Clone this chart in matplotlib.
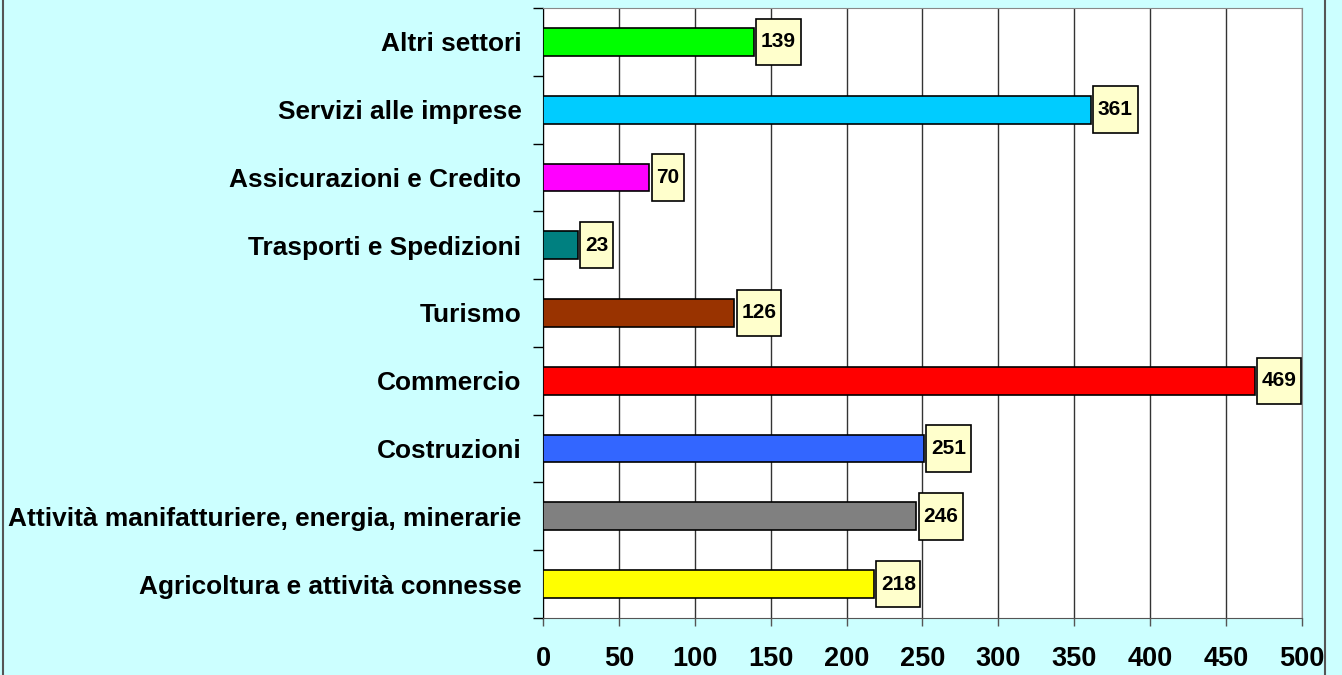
import matplotlib
matplotlib.use("Agg")
import matplotlib.pyplot as plt
from matplotlib.path import Path
from matplotlib.patches import Rectangle

categories = ["Agricoltura e attività connesse",
              "Attività manifatturiere, energia, minerarie",
              "Costruzioni", "Commercio", "Turismo",
              "Trasporti e Spedizioni", "Assicurazioni e Credito",
              "Servizi alle imprese", "Altri settori"]
values = [218, 246, 251, 469, 126, 23, 70, 361, 139]
colors = ["#FFFF00", "#808080", "#3366FF", "#FF0000", "#993300",
          "#008080", "#FF00FF", "#00CCFF", "#00FF00"]
xticks = [0, 50, 100, 150, 200, 250, 300, 350, 400, 450, 500]

plt.rcParams['font.family'] = ['Liberation Sans', 'DejaVu Sans']
plt.rcParams['font.weight'] = 'bold'

fig = plt.figure(figsize=(13.42, 6.75), dpi=100)
fig.patch.set_facecolor("#CCFFFF")
fig.patches.append(Rectangle((3/1342, -0.01), (1325-3)/1342, 1.02,
                             transform=fig.transFigure, fill=False,
                             edgecolor="#555555", lw=1.5))
ax = fig.add_axes([543/1342, 1-618/675, (1302-543)/1342, (618-8)/675])
ax.set_facecolor("white")

ypos = list(range(len(categories)))
ax.barh(ypos, values, height=0.41, color=colors, edgecolor="black", linewidth=1.2, zorder=3)

def labelbox(x0, y0, width, height, mutation_size):
    px = mutation_size * 0.22
    py = mutation_size * 0.66
    x0 -= px; x1 = x0 + width + 2*px
    y0 -= py; y1 = y0 + height + 2*py
    return Path([(x0, y0), (x1, y0), (x1, y1), (x0, y1), (x0, y0)], closed=True)

for y, v in zip(ypos, values):
    ax.annotate(str(v), xy=(v, y), xytext=(5, 0), textcoords="offset points",
                ha="left", va="center", fontsize=15, fontweight="bold", zorder=5,
                bbox=dict(boxstyle=labelbox, facecolor="#FFFFCC", edgecolor="black", lw=1.2))

ax.set_xlim(0, 500)
ax.set_ylim(-0.5, len(categories) - 0.5)
ax.set_xticks(xticks)
ax.set_xticklabels([str(t) for t in xticks], fontsize=19.5, fontweight="bold")
ax.set_yticks(ypos)
ax.set_yticklabels(categories, fontsize=18.9, fontweight="bold")
ax.set_yticks([i - 0.5 for i in range(len(categories) + 1)], minor=True)
ax.tick_params(axis="y", which="major", length=0, pad=15.5)
ax.tick_params(axis="y", which="minor", length=7, width=1, color="black", direction="out")
ax.tick_params(axis="x", which="major", length=6, width=1, color="#555555", pad=14)
ax.grid(axis="x", color="#333333", lw=1, zorder=0)
for s in ["top", "right"]:
    ax.spines[s].set_color("#888888")
ax.spines["left"].set_color("black")
ax.spines["bottom"].set_color("#555555")

fig.savefig("out.png", dpi=100, facecolor=fig.get_facecolor())
